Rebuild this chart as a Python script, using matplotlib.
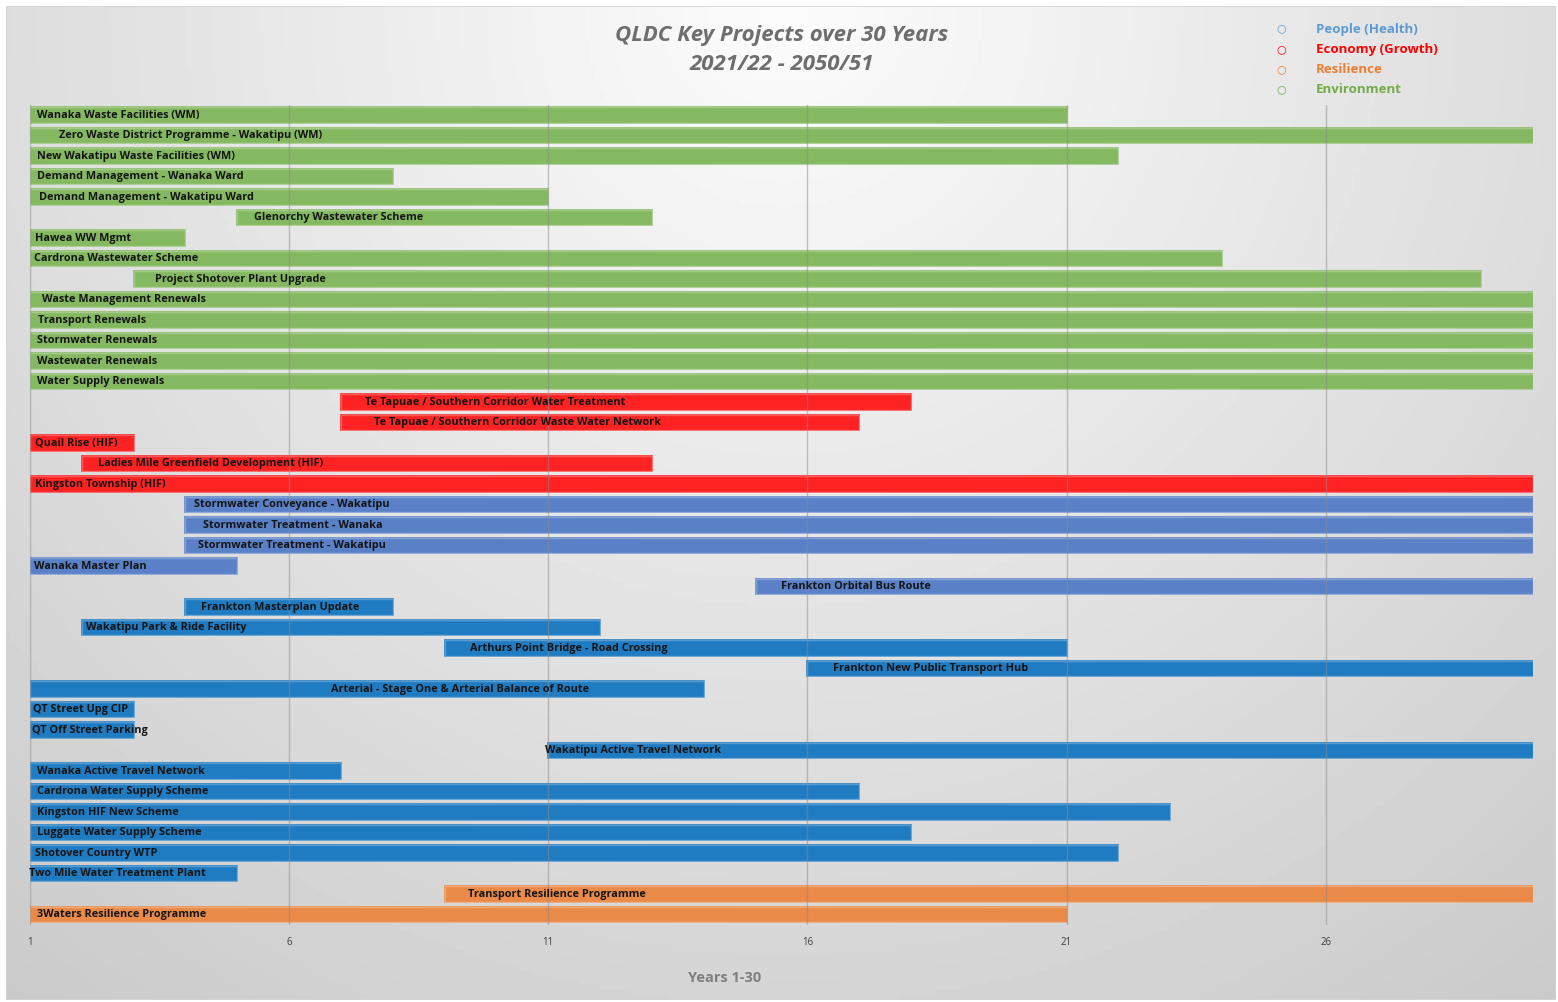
import numpy as np
import matplotlib.pyplot as plt
from matplotlib.patches import Rectangle

plt.rcParams['font.family'] = ['Open Sans', 'DejaVu Sans']

projects = [
    "Wanaka Waste Facilities (WM)",
    "Zero Waste District Programme - Wakatipu (WM)",
    "New Wakatipu Waste Facilities (WM)",
    "Demand Management - Wanaka Ward",
    "Demand Management - Wakatipu Ward",
    "Glenorchy Wastewater Scheme",
    "Hawea WW Mgmt",
    "Cardrona Wastewater Scheme",
    "Project Shotover Plant Upgrade",
    "Waste Management Renewals",
    "Transport Renewals",
    "Stormwater Renewals",
    "Wastewater Renewals",
    "Water Supply Renewals",
    "Te Tapuae / Southern Corridor Water Treatment",
    "Te Tapuae / Southern Corridor Waste Water Network",
    "Quail Rise (HIF)",
    "Ladies Mile Greenfield Development (HIF)",
    "Kingston Township (HIF)",
    "Stormwater Conveyance - Wakatipu",
    "Stormwater Treatment - Wanaka",
    "Stormwater Treatment - Wakatipu",
    "Wanaka Master Plan",
    "Frankton Orbital Bus Route",
    "Frankton Masterplan Update",
    "Wakatipu Park & Ride Facility",
    "Arthurs Point Bridge - Road Crossing",
    "Frankton New Public Transport Hub",
    "Arterial - Stage One & Arterial Balance of Route",
    "QT Street Upg CIP",
    "QT Off Street Parking",
    "Wakatipu Active Travel Network",
    "Wanaka Active Travel Network",
    "Cardrona Water Supply Scheme",
    "Kingston HIF New Scheme",
    "Luggate Water Supply Scheme",
    "Shotover Country WTP",
    "Two Mile Water Treatment Plant",
    "Transport Resilience Programme",
    "3Waters Resilience Programme",
]
start_year = [1, 1, 1, 1, 1, 5, 1, 1, 3, 1, 1, 1, 1, 1,
              7, 7, 1, 2, 1,
              4, 4, 4, 1, 15, 4, 2, 9, 16, 1, 1, 1, 11, 1, 1, 1, 1, 1, 1,
              9, 1]
end_year = [21, 30, 22, 8, 11, 13, 4, 24, 29, 30, 30, 30, 30, 30,
            18, 17, 3, 13, 30,
            30, 30, 30, 5, 30, 8, 12, 21, 30, 14, 3, 3, 30, 7, 17, 23, 18, 22, 5,
            30, 21]
group = (["env"] * 14 + ["eco"] * 5 +
         ["ppl2"] * 5 + ["ppl"] * 14 + ["res"] * 2)
group[24] = "ppl"   # Frankton Masterplan Update
group[23] = "ppl2"  # Frankton Orbital Bus Route

# label offset from bar start, pixels
label_pad = [7, 29, 7, 7, 9, 17, 5, 4, 21, 12, 8, 7, 7, 7,
             24, 33, 5, 16, 5,
             9, 18, 13, 4, 25, 16, 4, 25, 26, 301, 3, 2, -3, 7, 7, 7, 7, 5, -1,
             23, 7]

legend_names = ["People (Health)", "Economy (Growth)", "Resilience", "Environment"]
legend_colors = ["#5B9BD5", "#FF0000", "#ED7D31", "#70AD47"]

bar_colors = {"env": "#85B961", "eco": "#FE2222", "ppl2": "#5A81C8",
              "ppl": "#1F7CC2", "res": "#EA8A48"}

W, H = 1558, 1002
fig = plt.figure(figsize=(W / 100, H / 100), dpi=100)
fig.patch.set_facecolor("white")

# background panel with soft gradient
bg = fig.add_axes([6 / W, 2 / H, 1550 / W, 994 / H])
yy, xx = np.mgrid[0:200, 0:300]
d = np.hypot((xx - 150) / 300 * 1550, yy / 200 * 994)
img = 252 - 50 * np.clip(d / 1250, 0, 1)
bg.imshow(img, cmap="gray", vmin=0, vmax=255, aspect="auto", extent=[0, 1, 0, 1], origin="upper")
bg.set_xlim(0, 1)
bg.set_ylim(0, 1)
bg.axis("off")
bg.add_patch(Rectangle((0, 0), 1, 1, fill=False, edgecolor="#d4d4d4", lw=1.2, transform=bg.transAxes))

x0, x1 = 30, 1533
top, bottom = 104.75, 924.75
ax = fig.add_axes([x0 / W, 1 - bottom / H, (x1 - x0) / W, (bottom - top) / H])
ax.patch.set_alpha(0)
n = len(projects)
ypos = np.arange(n)
for i in range(n):
    c = bar_colors[group[i]]
    ax.barh(ypos[i], end_year[i] - start_year[i], left=start_year[i], height=0.78,
            color=c, edgecolor=c, linewidth=1.2, zorder=2)
    ax.barh(ypos[i], end_year[i] - start_year[i], left=start_year[i], height=0.78,
            color="none", edgecolor="white", linewidth=1.0, alpha=0.25, zorder=3)
    ax.annotate(projects[i], (start_year[i], ypos[i]), xytext=(label_pad[i] * 0.72, 0),
                textcoords="offset points", va="center", ha="left",
                fontsize=7.8, fontweight="bold", color="#141414", zorder=5)

ax.set_xlim(1, 30)
ax.set_ylim(n - 0.5, -0.5)
for gx in [1, 6, 11, 16, 21, 26]:
    ax.axvline(gx, color="#8a8a8a", lw=1.0, alpha=0.5, zorder=4)
ax.set_xticks([1, 6, 11, 16, 21, 26])
ax.tick_params(axis="x", length=0, labelsize=7, colors="#404040", pad=9)
ax.set_yticks([])
for s in ax.spines.values():
    s.set_visible(False)

fig.text(725 / W, 1 - 978 / H, "Years 1-30", ha="center", va="center",
         fontsize=10.5, fontweight="bold", color="#7f7f7f")
fig.text(782 / W, 1 - 50 / H, "QLDC Key Projects over 30 Years\n2021/22 - 2050/51",
         ha="center", va="center", fontsize=16, fontweight="bold", fontstyle="italic",
         color="#6e6e6e", linespacing=1.5)

for k, (name, col) in enumerate(zip(legend_names, legend_colors)):
    yk = 1 - (29 + k * 20.3) / H
    fig.text(1281 / W, yk, "○", ha="center", va="center", fontsize=8, color=col)
    fig.text(1316 / W, yk, name, ha="left", va="center", fontsize=9.5,
             fontweight="bold", color=col)

fig.savefig("out.png", dpi=100)
